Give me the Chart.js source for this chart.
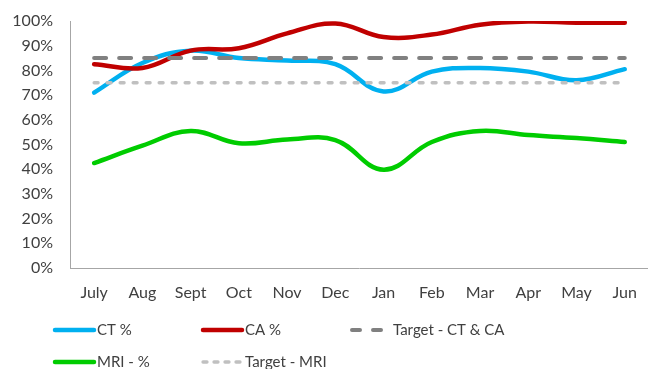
<!DOCTYPE html>
<html>
<head>
<meta charset="utf-8">
<script src="https://cdn.jsdelivr.net/npm/chart.js@4"></script>
<style>
  html, body { margin: 0; padding: 0; overflow: hidden; background: #fff; }
  #wrap { position: relative; width: 652px; height: 369px; }
</style>
</head>
<body>
<div id="wrap"><canvas id="c"></canvas></div>
<script>
// Monthly performance against targets (percent)
const months = ['July', 'Aug', 'Sept', 'Oct', 'Nov', 'Dec', 'Jan', 'Feb', 'Mar', 'Apr', 'May', 'Jun'];
const ctPct = [71, 83, 88, 85, 84, 82.5, 71.5, 79.5, 81, 79.5, 76, 80.5];
const caPct = [82.5, 81, 88, 89, 95, 99, 93.5, 94.5, 98.5, 99.8, 99.3, 99.3];
const targetCtCa = [85, 85, 85, 85, 85, 85, 85, 85, 85, 85, 85, 85];
const mriPct = [42.5, 49.5, 55.5, 50.5, 52, 51.8, 39.8, 51, 55.5, 53.8, 52.6, 51];
const targetMri = [75, 75, 75, 75, 75, 75, 75, 75, 75, 75, 75, 75];
const yTicks = [0, 10, 20, 30, 40, 50, 60, 70, 80, 90, 100];

const FONT = 'Lato';
const TEXT = '#404040';

function lineSet(label, data, color, width, dash, order) {
  return {
    label, data,
    borderColor: color,
    backgroundColor: color,
    borderWidth: width,
    borderDash: dash,
    borderCapStyle: 'round',
    borderJoinStyle: 'round',
    pointRadius: 0,
    pointHoverRadius: 0,
    tension: dash.length ? 0 : 0.4,
    fill: false,
    order
  };
}

// Legend laid out in fixed columns, two rows
const gridLegend = {
  id: 'gridLegend',
  afterDraw(chart) {
    const ctx = chart.ctx;
    const cols = [53, 201, 350];
    const rows = [330, 362];
    const slots = [[0, 0], [1, 0], [2, 0], [0, 1], [1, 1]];
    ctx.save();
    ctx.font = '15px ' + FONT;
    ctx.fillStyle = TEXT;
    ctx.textBaseline = 'middle';
    chart.data.datasets.forEach((ds, i) => {
      const [c, r] = slots[i];
      const x = cols[c], y = rows[r];
      ctx.beginPath();
      ctx.strokeStyle = ds.borderColor;
      ctx.lineWidth = ds.borderWidth;
      ctx.lineCap = 'round';
      ctx.setLineDash(ds.legendDash || ds.borderDash);
      ctx.moveTo(x + 2, y);
      ctx.lineTo(x + 41, y);
      ctx.stroke();
      ctx.setLineDash([]);
      const tx = ds.legendTextGap ? x + ds.legendTextGap : x + 44;
      ctx.fillText(ds.label, tx, y);
    });
    ctx.restore();
  }
};

const datasets = [
  lineSet('CT %', ctPct, '#00B0F0', 4.5, [], 5),
  lineSet('CA %', caPct, '#C00000', 4.5, [], 4),
  Object.assign(lineSet('Target - CT & CA', targetCtCa, '#808080', 4, [12, 13], 3), { legendDash: [8, 13], legendTextGap: 43 }),
  lineSet('MRI - %', mriPct, '#00CC00', 4.5, [], 2),
  Object.assign(lineSet('Target - MRI', targetMri, '#C0C0C0', 3.3, [4, 9], 1), { legendDash: [4, 7] })
];

new Chart(document.getElementById('c'), {
  type: 'line',
  data: { labels: months, datasets },
  plugins: [gridLegend],
  options: {
    responsive: true,
    maintainAspectRatio: false,
    animation: false,
    layout: { padding: { top: 21, right: 1, bottom: 61, left: 0 } },
    plugins: {
      legend: { display: false },
      tooltip: { enabled: false }
    },
    scales: {
      x: {
        offset: true,
        grid: { display: false, drawTicks: false },
        border: { display: true, color: '#A6A6A6', width: 1 },
        ticks: { color: TEXT, font: { family: FONT, size: 16 }, padding: 15, maxRotation: 0, autoSkip: false },
        afterFit(s) { s.height = 40; }
      },
      y: {
        min: 0,
        max: 100,
        afterBuildTicks(s) { s.ticks = yTicks.map(v => ({ value: v })); },
        grid: { display: false, drawTicks: false },
        border: { display: true, color: '#A6A6A6', width: 1 },
        ticks: { color: TEXT, font: { family: FONT, size: 16 }, padding: 17, callback: v => v + '%' },
        afterFit(s) { s.width = 70; s.paddingTop = 0; s.paddingBottom = 0; }
      }
    }
  }
});
</script>
</body>
</html>
